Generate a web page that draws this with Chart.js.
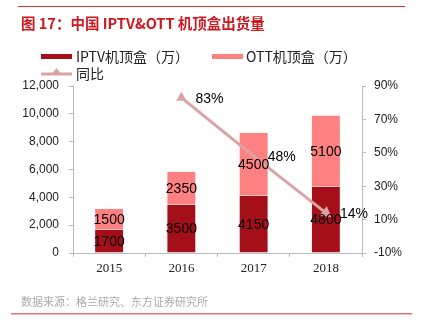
<!DOCTYPE html>
<html>
<head>
<meta charset="utf-8">
<script src="https://cdn.jsdelivr.net/npm/chart.js@4"></script>
<style>
  html, body { margin: 0; padding: 0; background: #fff; }
  #wrap { position: relative; width: 422px; height: 332px; }
</style>
</head>
<body>
<div id="wrap"><canvas id="chart" width="422" height="332"></canvas></div>
<script>
const years = ['2015', '2016', '2017', '2018'];
const iptv = [1700, 3500, 4150, 4800];
const ott = [1500, 2350, 4500, 5100];
const yoy = [null, 83, 48, 14];

const CJK = '"Noto Sans CJK SC", "Noto Sans", sans-serif';
const LINE = '#DBA3A3';

// title, frame lines, legend, source note, value labels
const decor = {
  id: 'decor',
  afterDatasetsDraw(chart) {
    const c = chart.ctx;
    c.save();
    // value labels in bars
    c.font = '14px "Liberation Sans", sans-serif';
    c.fillStyle = '#000';
    c.textAlign = 'center';
    c.textBaseline = 'middle';
    [0, 1].forEach(di => {
      chart.getDatasetMeta(di).data.forEach((bar, i) => {
        const v = chart.data.datasets[di].data[i];
        c.fillText(String(v), bar.x, (bar.y + bar.base) / 2 + 1);
      });
    });
    // line labels
    c.textAlign = 'left';
    chart.getDatasetMeta(2).data.forEach((pt, i) => {
      const v = yoy[i];
      if (v == null) return;
      c.fillText(v + '%', pt.x + 14, pt.y + 1);
    });
    c.restore();
  },
  afterDraw(chart) {
    const c = chart.ctx;
    c.save();
    // top rule
    c.fillStyle = '#E0302F';
    c.fillRect(18, 6, 387, 1);
    // title
    c.fillStyle = '#D2161E';
    c.font = 'bold 14.5px ' + CJK;
    c.textBaseline = 'middle';
    c.fillText('图 17：中国 IPTV&OTT 机顶盒出货量', 21, 23);
    // legend
    c.font = '14px ' + CJK;
    c.fillStyle = '#A50F1A';
    c.fillRect(41, 54, 31, 5);
    c.fillStyle = '#FF8080';
    c.fillRect(212, 54, 31, 5);
    c.fillStyle = '#222';
    c.fillText('IPTV机顶盒（万）', 76, 57);
    c.fillText('OTT机顶盒（万）', 246, 57);
    c.strokeStyle = LINE;
    c.lineWidth = 3;
    c.beginPath(); c.moveTo(41, 74); c.lineTo(72, 74); c.stroke();
    c.fillStyle = LINE;
    c.beginPath(); c.moveTo(56.5, 68); c.lineTo(62, 75); c.lineTo(51, 75); c.closePath(); c.fill();
    c.fillStyle = '#222';
    c.fillText('同比', 76, 74);
    // source
    c.fillStyle = '#AAAAAA';
    c.font = '11px ' + CJK;
    c.fillText('数据来源：格兰研究、东方证券研究所', 21, 302);
    c.fillStyle = '#F07070';
    c.fillRect(11, 313, 401, 1.5);
    c.restore();
  }
};

const axisGrid = { drawOnChartArea: false, drawTicks: true, tickLength: 4, color: '#BBBBBB' };
const axisBorder = { display: true, color: '#BBBBBB' };

new Chart(document.getElementById('chart'), {
  data: {
    labels: years,
    datasets: [
      { type: 'bar', label: 'IPTV机顶盒（万）', data: iptv, backgroundColor: '#A50F1A', borderColor: '#FFE8E8', borderWidth: 0.5, yAxisID: 'y', order: 1 },
      { type: 'bar', label: 'OTT机顶盒（万）', data: ott, backgroundColor: '#FF8080', borderColor: '#FFE8E8', borderWidth: 0.5, yAxisID: 'y', order: 1 },
      {
        type: 'line', label: '同比', data: yoy, yAxisID: 'y1', order: 0,
        borderColor: LINE, backgroundColor: LINE, borderWidth: 3,
        pointStyle: 'triangle', pointRadius: [0, 6, 0, 7],
        pointRotation: [0, 0, 0, 128], pointBorderWidth: 0
      }
    ]
  },
  options: {
    responsive: false,
    animation: false,
    events: [],
    categoryPercentage: 1,
    barPercentage: 0.4,
    layout: { padding: { top: 86, left: 0, right: 0, bottom: 0 } },
    plugins: { legend: { display: false }, tooltip: { enabled: false } },
    scales: {
      x: {
        stacked: true,
        grid: axisGrid, border: axisBorder,
        ticks: { color: '#222', padding: 4, font: { family: '"Liberation Serif", serif', size: 13 } },
        afterFit: s => { s.height = 79; }
      },
      y: {
        stacked: true, position: 'left', min: 0, max: 12000,
        grid: axisGrid, border: axisBorder,
        ticks: {
          stepSize: 2000, padding: 10, color: '#222',
          font: { family: '"Liberation Sans", sans-serif', size: 12 },
          callback: v => v.toLocaleString('en-US')
        },
        afterFit: s => { s.width = 73; }
      },
      y1: {
        position: 'right', min: -10, max: 90,
        grid: axisGrid, border: axisBorder,
        ticks: {
          stepSize: 20, padding: 8, color: '#222',
          font: { family: '"Liberation Sans", sans-serif', size: 12 },
          callback: v => v + '%'
        },
        afterFit: s => { s.width = 60; }
      }
    }
  },
  plugins: [decor]
});
</script>
</body>
</html>
